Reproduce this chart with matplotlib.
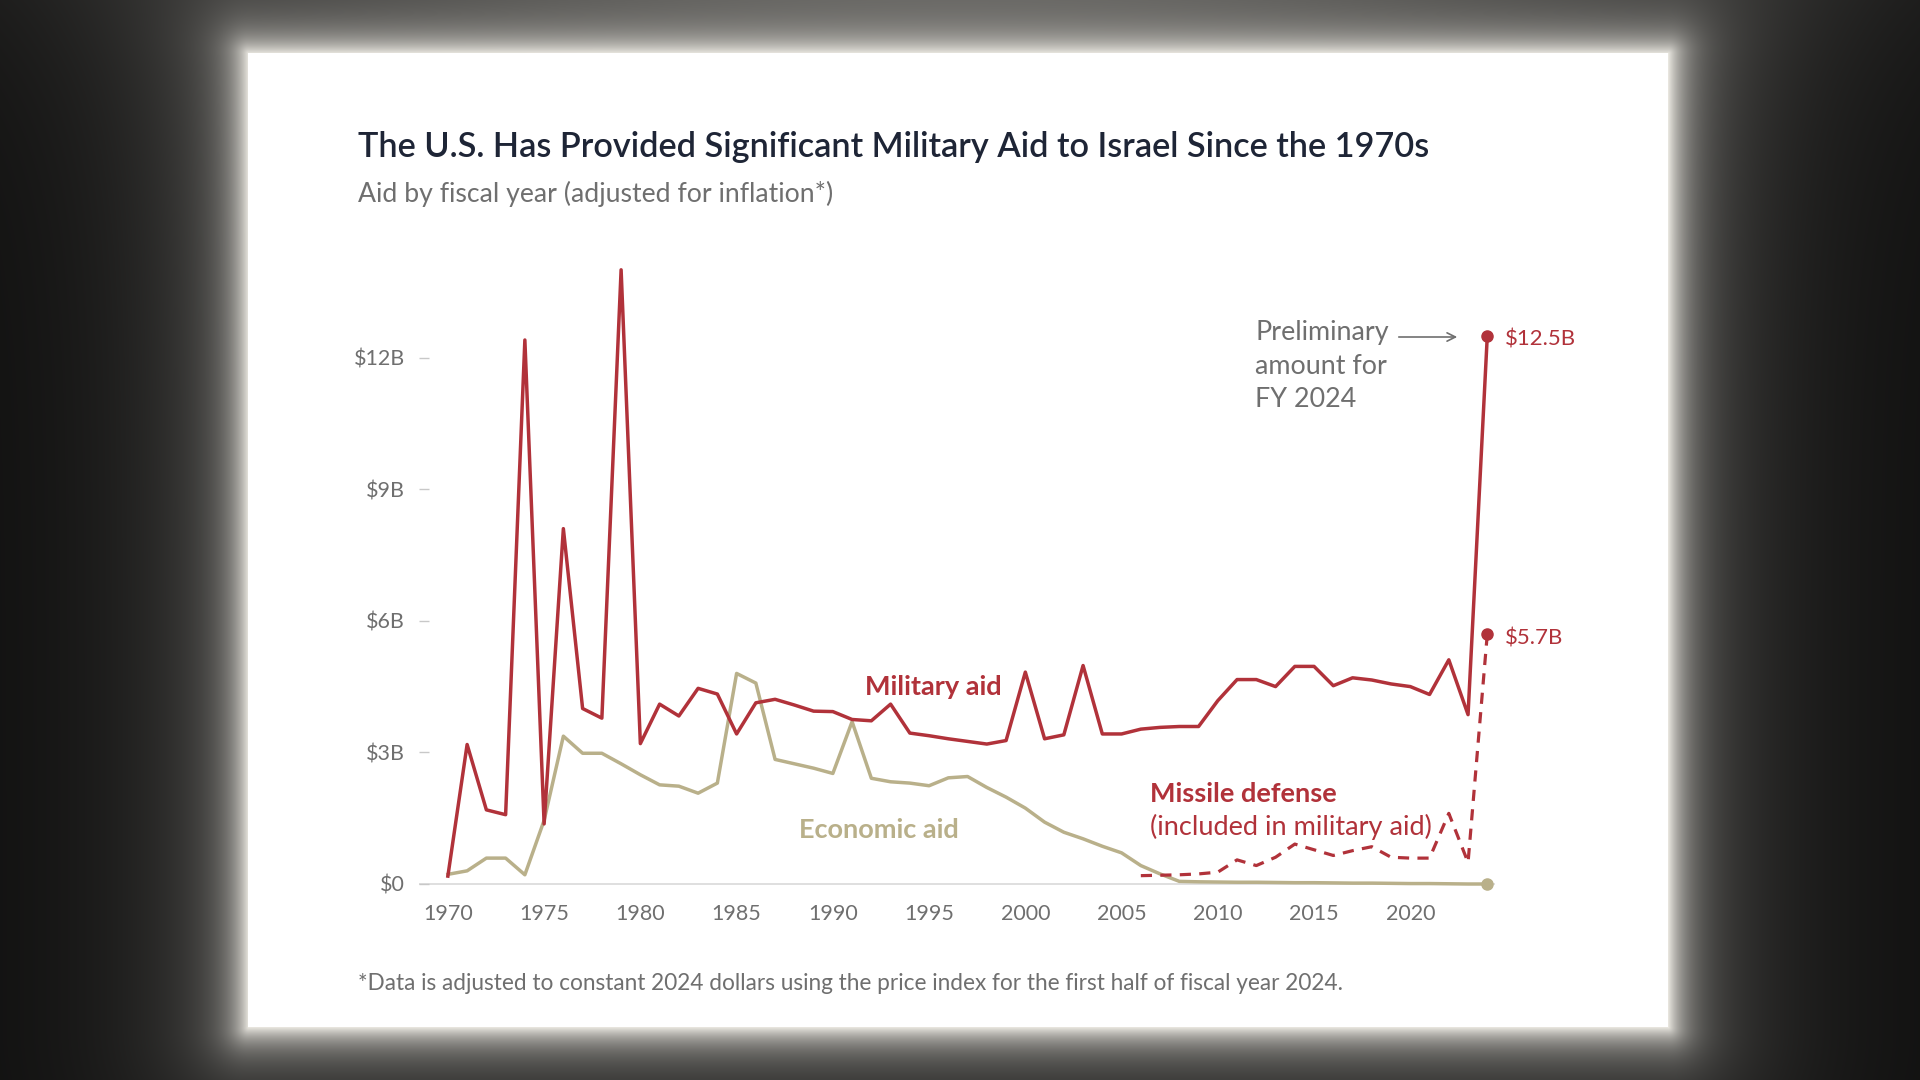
import numpy as np
import matplotlib
matplotlib.use("Agg")
import matplotlib.pyplot as plt
from matplotlib.patches import Rectangle, FancyArrowPatch

# data (billions of 2024 dollars)
years = list(range(1970, 2025))
military = [0.18, 3.18, 1.69, 1.58, 12.4, 1.37, 8.1, 4.0, 3.78, 14.0,
            3.2, 4.1, 3.83, 4.46, 4.33, 3.42, 4.13, 4.21, 4.08, 3.94,
            3.93, 3.75, 3.72, 4.1, 3.44, 3.38, 3.31, 3.25, 3.19, 3.27,
            4.83, 3.31, 3.4, 4.98, 3.42, 3.42, 3.53, 3.57, 3.59, 3.59,
            4.18, 4.66, 4.66, 4.5, 4.96, 4.96, 4.52, 4.7, 4.65, 4.56,
            4.5, 4.32, 5.11, 3.86, 12.5]
economic = [0.22, 0.3, 0.59, 0.59, 0.21, 1.45, 3.37, 2.98, 2.98, 2.74,
            2.49, 2.26, 2.23, 2.07, 2.3, 4.8, 4.58, 2.84, 2.74, 2.64,
            2.52, 3.7, 2.41, 2.33, 2.3, 2.24, 2.42, 2.45, 2.2, 1.98,
            1.73, 1.41, 1.18, 1.03, 0.86, 0.71, 0.42, 0.23, 0.06, 0.05,
            0.045, 0.04, 0.04, 0.035, 0.03, 0.03, 0.025, 0.02, 0.02, 0.015,
            0.01, 0.01, 0.005, 0.0, 0.0]
missile_years = list(range(2006, 2025))
missile = [0.19, 0.2, 0.21, 0.23, 0.27, 0.55, 0.42, 0.61, 0.91, 0.78,
           0.65, 0.76, 0.85, 0.61, 0.59, 0.59, 1.61, 0.49, 5.7]

yticks = [0, 3, 6, 9, 12]
ytick_labels = ["$0", "$3B", "$6B", "$9B", "$12B"]
xticks = list(range(1970, 2021, 5))

RED = "#b1323a"
KHAKI = "#b9b08a"
GREY = "#6f6f6f"
NAVY = "#1e2536"

plt.rcParams['font.family'] = ['Lato', 'DejaVu Sans']

W, H = 1920, 1080
fig = plt.figure(figsize=(19.2, 10.8), dpi=100)

# dark video background with a glow around the white card
card = (248, 53, 1668, 1027)
X, Y = np.meshgrid(np.arange(W), np.arange(H))
dx = np.maximum(np.maximum(card[0] - X, X - card[2]), 0)
dy = np.maximum(np.maximum(card[1] - Y, Y - card[3]), 0)
d = np.sqrt(dx ** 2 + dy ** 2)
base = 0.06 + 0.22 * np.exp(-((X - 960) / 750.0) ** 2) * np.exp(-Y / 120.0)
glow = 0.6 * np.exp(-d / 18.0) + 0.3 * np.exp(-d / 90.0)
val = base + (1 - base) * glow
rgb = np.dstack([val, val * 0.99, val * 0.96])
bg = fig.add_axes([0, 0, 1, 1])
bg.imshow(np.clip(rgb, 0, 1), aspect='auto', extent=[0, W, H, 0])
bg.axis('off')
bg.add_patch(Rectangle((card[0], card[1]), card[2] - card[0], card[3] - card[1],
                       facecolor='white', edgecolor='none'))
bg.set_xlim(0, W)
bg.set_ylim(H, 0)

# chart axes
px_per_b = 43.87
x_left, x_right = 1968.5, 2024.4
y_bot, y_top = -0.3, 14.3
ax_l, ax_r = 419, 1495
ax_b = 884 + (0 - y_bot) * px_per_b
ax_h = (y_top - y_bot) * px_per_b
ax = fig.add_axes([ax_l / W, (H - ax_b) / H, (ax_r - ax_l) / W, ax_h / H])
ax.set_facecolor('none')
ax.set_xlim(x_left, x_right)
ax.set_ylim(y_bot, y_top)
for s in ax.spines.values():
    s.set_visible(False)

ax.axhline(0, color='#dcdcdc', lw=1.3, zorder=1)

ax.plot(years, economic, color=KHAKI, lw=2.5, zorder=2,
        marker='o', markevery=[len(years) - 1], markersize=8)
ax.plot(missile_years, missile, color=RED, lw=2.3, zorder=3,
        linestyle=(0, (3.5, 2.6)), marker='o', markevery=[len(missile_years) - 1],
        markersize=8)
ax.plot(years, military, color=RED, lw=2.5, zorder=4,
        marker='o', markevery=[len(years) - 1], markersize=8)

ax.set_yticks(yticks)
ax.set_yticklabels(ytick_labels)
ax.set_xticks(xticks)
ax.set_xticklabels([str(x) for x in xticks])
ax.tick_params(axis='y', direction='in', length=7, width=1, color='#c8c8c8',
               labelcolor=GREY, labelsize=15.5, pad=10)
ax.tick_params(axis='x', length=0, labelcolor=GREY, labelsize=15.5, pad=5)

# series labels
ax.text(1995.2, 4.49, "Military aid", color=RED, fontsize=19.5, fontweight='bold',
        ha='center', va='center')
ax.text(1992.4, 1.23, "Economic aid", color=KHAKI, fontsize=19.5, fontweight='bold',
        ha='center', va='center')
ax.text(2006.5, 2.06, "Missile defense", color=RED, fontsize=19.5, fontweight='bold',
        ha='left', va='center')
ax.text(2006.5, 1.31, "(included in military aid)", color=RED, fontsize=19.5,
        ha='left', va='center')

ax.annotate("$12.5B", (years[-1], military[-1]), xytext=(13, -3), textcoords='offset points',
            color=RED, fontsize=16, va='center', ha='left', annotation_clip=False)
ax.annotate("$5.7B", (missile_years[-1], missile[-1]), xytext=(13, -3), textcoords='offset points',
            color=RED, fontsize=16, va='center', ha='left', annotation_clip=False)

fig.text(1255 / W, 1 - 320 / H, "Preliminary\namount for\nFY 2024", color=GREY,
         fontsize=19.4, ha='left', va='top', linespacing=1.43)
fig.add_artist(FancyArrowPatch(
    (1396 / W, 1 - 337 / H), (1460 / W, 1 - 337 / H), transform=fig.transFigure,
    arrowstyle='->,head_length=6,head_width=3', color=GREY, lw=1.2))

# titles and footnote
fig.text(357.6 / W, 1 - 147 / H,
         "The U.S. Has Provided Significant Military Aid to Israel Since the 1970s",
         color=NAVY, fontsize=24.7, fontweight='semibold', ha='left', va='center')
fig.text(357.6 / W, 1 - 194 / H, "Aid by fiscal year (adjusted for inflation*)",
         color=GREY, fontsize=19.2, ha='left', va='center')
fig.text(357.6 / W, 1 - 984 / H,
         "*Data is adjusted to constant 2024 dollars using the price index for the first half of fiscal year 2024.",
         color=GREY, fontsize=16.3, ha='left', va='center')

fig.savefig("out.png", dpi=100)
